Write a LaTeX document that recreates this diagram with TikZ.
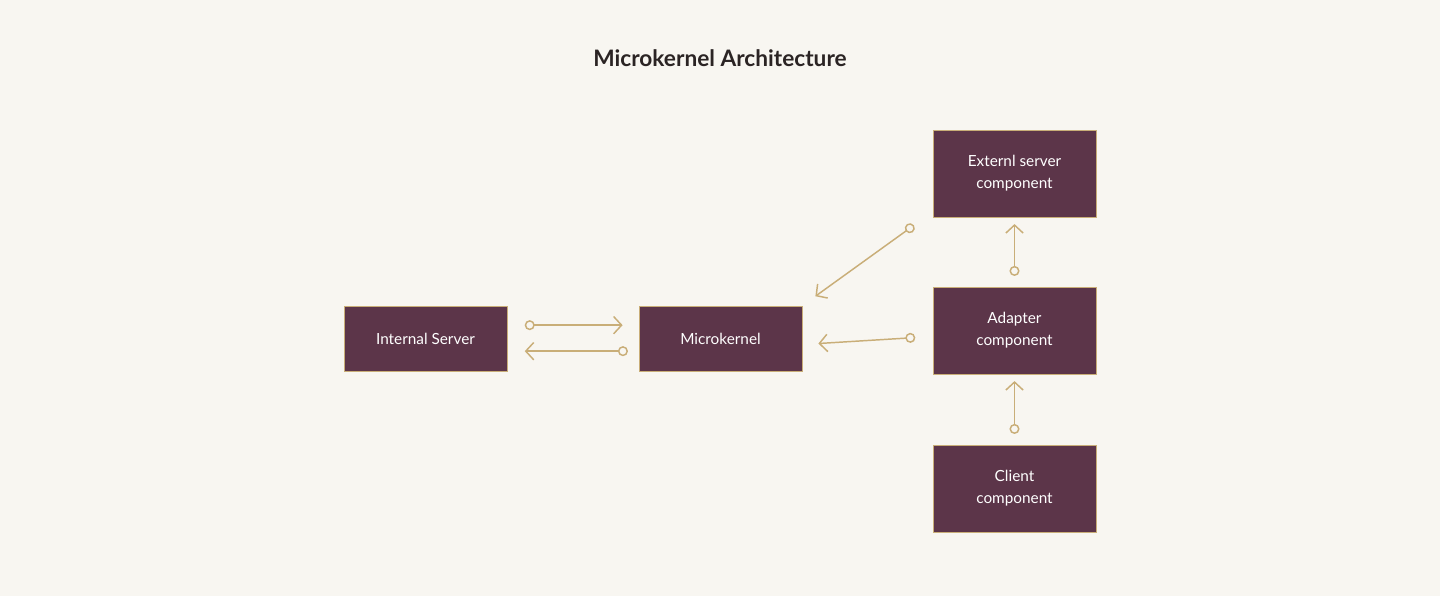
\documentclass[tikz,border=0pt]{standalone}
\usepackage{fontspec}
\setmainfont{Lato}
\usetikzlibrary{arrows.meta}
\definecolor{bg}{HTML}{F8F6F1}
\definecolor{boxc}{HTML}{5C3549}
\definecolor{edge}{HTML}{C9AE78}
\definecolor{ttl}{HTML}{2B2424}
\tikzset{
  comp/.style={draw=edge, line width=0.6pt, fill=boxc, text=white, minimum width=122.25pt, align=center, font=\fontsize{11.5}{16.5}\selectfont},
  conn/.style={draw=edge, line width=1.1pt, {Circle[open,length=7.5pt,width=7.5pt,line width=1.1pt]}-{Straight Barb[length=6pt,width=13pt,line width=1.1pt]}}
}
\begin{document}
\begin{tikzpicture}[x=0.75pt,y=-0.75pt]
\fill[bg] (0,0) rectangle (1440,596);
\useasboundingbox (0,0) rectangle (1440,596);
\node[font=\fontsize{17}{20}\selectfont\bfseries, text=ttl] (title) at (720,58) {Microkernel Architecture};
\node[comp, minimum height=48.75pt] (ins) at (425.5,338.5) {Internal Server};
\node[comp, minimum height=48.75pt] (mk) at (720.5,338.5) {Microkernel};
\node[comp, minimum height=65.25pt] (ext) at (1014.5,173.5) {Externl server\\component};
\node[comp, minimum height=65.25pt] (adp) at (1014.5,330.5) {Adapter\\component};
\node[comp, minimum height=65.25pt] (cli) at (1014.5,488.5) {Client\\component};
\draw[conn, shorten <=13pt, shorten >=12pt] ([yshift=10pt]ins.east) -- ([yshift=10pt]mk.west);
\draw[conn, shorten <=8pt, shorten >=13pt] ([yshift=-9.5pt]mk.west) -- ([yshift=-9.5pt]ins.east);
\draw[conn, shorten <=13pt, shorten >=12pt] ([yshift=-4.5pt]adp.west) -- ([yshift=-4.5pt]mk.west -| mk.east);
\draw[conn, shorten <=5pt, shorten >=12pt] ([xshift=-10pt,yshift=-3pt]ext.south west) -- (mk.north east);
\draw[conn, shorten <=8pt, shorten >=5pt] (adp.north) -- (ext.south);
\draw[conn, shorten <=8pt, shorten >=5pt] (cli.north) -- (adp.south);
\end{tikzpicture}
\end{document}
